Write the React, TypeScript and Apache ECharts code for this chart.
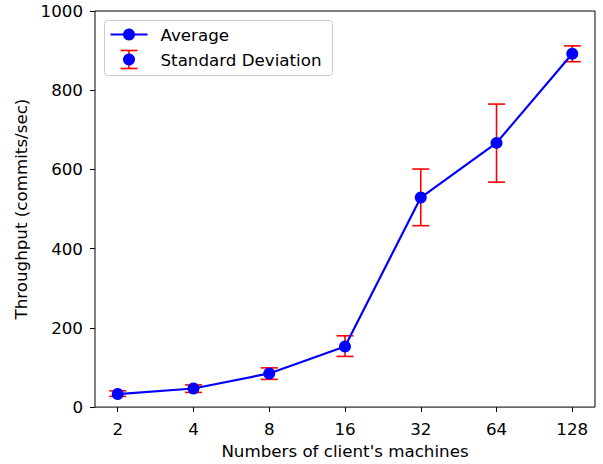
import React, { useEffect, useRef } from "react";
import * as echarts from "echarts";

// Client machine counts along the x axis
const clientCounts = ["2", "4", "8", "16", "32", "64", "128"];
// Mean throughput (commits/sec) per client count
const averages = [33, 47, 85, 153, 529, 667, 892];
// Lower / upper ends of the standard deviation bars
const stdLow = [27, 37, 70, 128, 458, 568, 872];
const stdHigh = [41, 56, 99, 180, 601, 765, 912];
const yTicks = [0, 200, 400, 600, 800, 1000];

const FONT = "DejaVu Sans";
const FS = 16.7;
const BLUE = "#0000ff";
const RED = "#ff0000";

export default function App() {
  const ref = useRef<HTMLDivElement>(null);

  useEffect(() => {
    if (!ref.current) return;
    const chart = echarts.init(ref.current, undefined, { renderer: "svg" });

    const idx = clientCounts.map((_, i) => i);
    const avgData = averages.map((v, i) => [i, v]);
    const errData = averages.map((_, i) => [i, stdLow[i], stdHigh[i]]);

    const legendX = 104;
    const legendY = 20;

    chart.setOption({
      animation: false,
      backgroundColor: "#ffffff",
      textStyle: { fontFamily: FONT },
      grid: {
        left: 95,
        right: 8,
        top: 11,
        bottom: 55,
        show: true,
        borderColor: "#000000",
        borderWidth: 1,
        backgroundColor: "transparent",
      },
      xAxis: {
        type: "value",
        min: -0.3,
        max: 6.3,
        name: "Numbers of client's machines",
        nameLocation: "middle",
        nameGap: 34,
        nameTextStyle: { fontFamily: FONT, fontSize: FS, color: "#000" },
        axisLine: { show: false, onZero: false },
        splitLine: { show: false },
        axisTick: {
          show: true,
          inside: false,
          length: 5,
          customValues: idx,
          lineStyle: { color: "#000", width: 1 },
        },
        axisLabel: {
          customValues: idx,
          margin: 13,
          fontFamily: FONT,
          fontSize: FS,
          color: "#000",
          formatter: (v: number) => clientCounts[Math.round(v)] ?? "",
        },
      },
      yAxis: {
        type: "value",
        min: 0,
        max: 1000,
        interval: 200,
        name: "Throughput (commits/sec)",
        nameLocation: "middle",
        nameGap: 56,
        nameTextStyle: { fontFamily: FONT, fontSize: FS, color: "#000" },
        axisLine: { show: false, onZero: false },
        splitLine: { show: false },
        axisTick: {
          show: true,
          inside: false,
          length: 5,
          customValues: yTicks,
          lineStyle: { color: "#000", width: 1 },
        },
        axisLabel: {
          customValues: yTicks,
          margin: 12,
          fontFamily: FONT,
          fontSize: FS,
          color: "#000",
          formatter: (v: number) => String(v),
        },
      },
      series: [
        {
          name: "Standard Deviation",
          type: "custom",
          z: 2,
          encode: { x: 0, y: [1, 2] },
          data: errData,
          renderItem: (params: any, api: any) => {
            const x = api.value(0);
            const lo = api.coord([x, api.value(1)]);
            const hi = api.coord([x, api.value(2)]);
            const hw = 8.5;
            const style = { stroke: RED, lineWidth: 1.6 };
            return {
              type: "group",
              children: [
                { type: "line", shape: { x1: lo[0], y1: lo[1], x2: hi[0], y2: hi[1] }, style },
                { type: "line", shape: { x1: lo[0] - hw, y1: lo[1], x2: lo[0] + hw, y2: lo[1] }, style },
                { type: "line", shape: { x1: hi[0] - hw, y1: hi[1], x2: hi[0] + hw, y2: hi[1] }, style },
              ],
            };
          },
        },
        {
          name: "Average",
          type: "line",
          z: 5,
          data: avgData,
          symbol: "circle",
          symbolSize: 12,
          showSymbol: true,
          lineStyle: { color: BLUE, width: 2.2 },
          itemStyle: { color: BLUE, borderWidth: 0 },
        },
      ],
      graphic: [
        {
          type: "group",
          left: legendX,
          top: legendY,
          z: 100,
          children: [
            {
              type: "rect",
              shape: { x: 0, y: 0, width: 228, height: 55, r: 3 },
              style: { fill: "rgba(255,255,255,0.8)", stroke: "#cccccc", lineWidth: 1 },
            },
            {
              type: "line",
              shape: { x1: 6, y1: 14, x2: 43, y2: 14 },
              style: { stroke: BLUE, lineWidth: 2.2 },
            },
            { type: "circle", shape: { cx: 24.5, cy: 14, r: 6 }, style: { fill: BLUE } },
            {
              type: "text",
              x: 56,
              y: 14,
              style: {
                text: "Average",
                fontFamily: FONT,
                fontSize: FS,
                fill: "#000",
                verticalAlign: "middle",
                align: "left",
              },
            },
            {
              type: "line",
              shape: { x1: 24.5, y1: 30, x2: 24.5, y2: 48 },
              style: { stroke: RED, lineWidth: 1.6 },
            },
            {
              type: "line",
              shape: { x1: 16, y1: 30, x2: 33, y2: 30 },
              style: { stroke: RED, lineWidth: 1.6 },
            },
            {
              type: "line",
              shape: { x1: 16, y1: 48, x2: 33, y2: 48 },
              style: { stroke: RED, lineWidth: 1.6 },
            },
            { type: "circle", shape: { cx: 24.5, cy: 39, r: 6 }, style: { fill: BLUE } },
            {
              type: "text",
              x: 56,
              y: 39,
              style: {
                text: "Standard Deviation",
                fontFamily: FONT,
                fontSize: FS,
                fill: "#000",
                verticalAlign: "middle",
                align: "left",
              },
            },
          ],
        },
      ],
    });

    return () => chart.dispose();
  }, []);

  return <div ref={ref} style={{ width: 603, height: 464, position: "absolute", left: 0, top: 0 }} />;
}
